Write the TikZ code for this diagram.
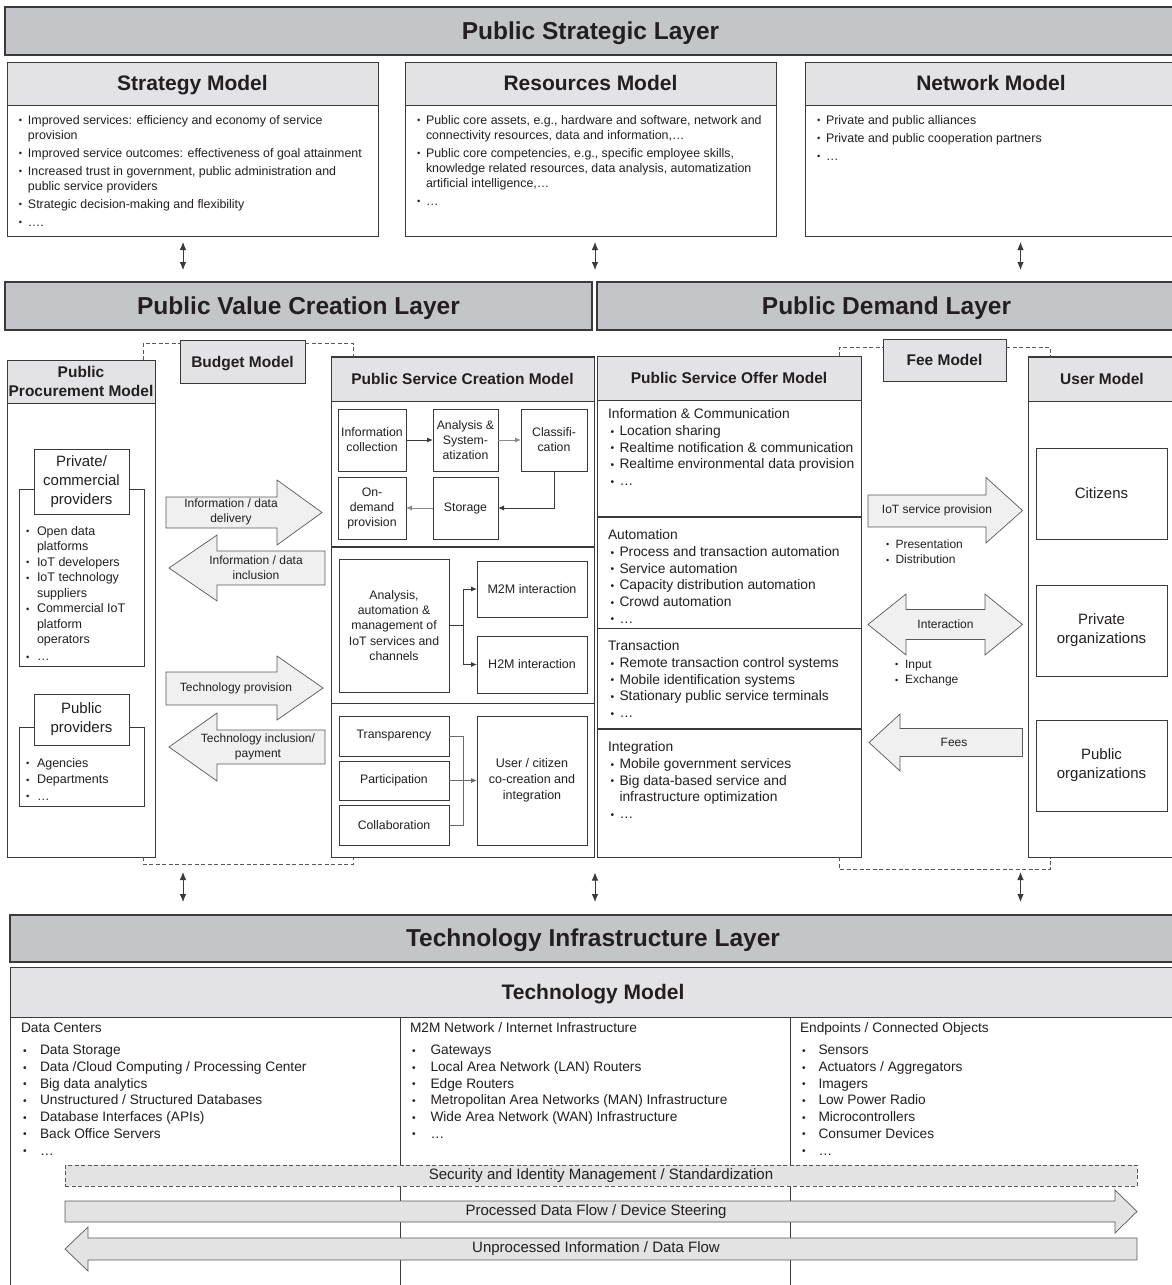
\documentclass[tikz,border=0pt]{standalone}
\usepackage{fontspec}
\setmainfont{Liberation Sans}
\usetikzlibrary{arrows.meta,calc}

\definecolor{barGray}{HTML}{C4C5C8}
\definecolor{headGray}{HTML}{E3E3E5}
\definecolor{arrowFill}{HTML}{F0F0F0}
\definecolor{bandFill}{HTML}{E3E3E3}
\definecolor{edge}{HTML}{3A3A3A}
\definecolor{ink}{HTML}{231F20}

% bullet mark with a fixed-width slot, and a matching hanging indent
\newcommand{\dotmark}{\raisebox{0.5pt}{\scalebox{0.75}{\textbullet}}}
\newcommand{\bl}[1]{\makebox[#1][l]{\dotmark}}
\newcommand{\cl}[1]{\hspace*{#1}}
\newcommand{\fs}[2]{\fontsize{#1}{#2}\selectfont}
% bullet of the offer-model lists
\newcommand{\ob}{\hspace*{2.5pt}\bl{9pt}}
% left-aligned block of lines whose baseline is that of its first line
\newcommand{\lines}[1]{\begin{tabular}[t]{@{}l@{}}#1\end{tabular}}

\begin{document}
\begin{tikzpicture}[x=1pt,y=-1pt,
  every node/.style={text=ink},
  box/.style={draw=edge, line width=0.9pt, fill=white, inner sep=0pt, outer sep=0pt},
  layer/.style={box, fill=barGray, line width=1.3pt, font=\bfseries\fs{24.5}{28},
                text height=16.5pt, text depth=0pt},
  mhead/.style={box, fill=headGray, font=\bfseries\fs{21}{25},
                text height=14pt, text depth=0pt},
  shead/.style={box, fill=headGray, font=\bfseries\fs{15.5}{19}, align=center},
  onehead/.style={shead, text height=11pt, text depth=0pt},
  sub/.style={box, line width=0.8pt, font=\fs{12.3}{15}, align=center},
  usr/.style={box, line width=0.8pt, font=\fs{15}{19}, align=center},
  txt/.style={inner sep=0pt, outer sep=0pt, anchor=base west},
  lbl/.style={inner sep=0pt, align=center, font=\fs{12}{15}},
  barrow/.style={draw=edge!85, fill=arrowFill, line width=0.7pt, line join=miter},
  dbl/.style={draw=edge, line width=0.8pt, {Latex[length=8pt,width=6.5pt]}-{Latex[length=8pt,width=6.5pt]}},
  conn/.style={draw=edge, line width=0.9pt, -{Latex[length=6pt,width=5pt]}},
  plain/.style={draw=edge, line width=0.9pt},
  dashline/.style={draw=edge!85, line width=0.7pt, dash pattern=on 4pt off 2.5pt},
]
\useasboundingbox (0,0) rectangle (1171,1285);

% ---------------- Public Strategic Layer ----------------
\node[layer, minimum width=1171, minimum height=48] (psl) at (590.5,31) {Public Strategic Layer};

\node[box, minimum width=371, minimum height=174] (sm) at (192.5,149) {};
\node[mhead, minimum width=371, minimum height=43] (smh) at (192.5,83.5) {Strategy Model};
\node[box, minimum width=371, minimum height=174] (rm) at (590.5,149) {};
\node[mhead, minimum width=371, minimum height=43] (rmh) at (590.5,83.5) {Resources Model};
\node[box, minimum width=372, minimum height=174] (nm) at (991,149) {};
\node[mhead, minimum width=372, minimum height=43] (nmh) at (991,83.5) {Network Model};

\node[txt, font=\fs{12.4}{15}] (smt) at (19,124.3) {\lines{%
\bl{9pt}Improved services: efficiency and economy of service\\
\cl{9pt}provision\\[3pt]
\bl{9pt}Improved service outcomes: effectiveness of goal attainment\\[3pt]
\bl{9pt}Increased trust in government, public administration and\\
\cl{9pt}public service providers\\[3pt]
\bl{9pt}Strategic decision-making and flexibility\\[3pt]
\bl{9pt}….}};

\node[txt, font=\fs{12.4}{15}] (rmt) at (417,124.3) {\lines{%
\bl{9pt}Public core assets, e.g., hardware and software, network and\\
\cl{9pt}connectivity resources, data and information,…\\[3pt]
\bl{9pt}Public core competencies, e.g., specific employee skills,\\
\cl{9pt}knowledge related resources, data analysis, automatization\\
\cl{9pt}artificial intelligence,…\\[3pt]
\bl{9pt}…}};

\node[txt, font=\fs{12.4}{15}] (nmt) at (817,124.3) {\lines{%
\bl{9pt}Private and public alliances\\[3pt]
\bl{9pt}Private and public cooperation partners\\[3pt]
\bl{9pt}…}};

% ---------------- Value creation / demand layers ----------------
\node[layer, minimum width=587, minimum height=48] (pvcl) at (298.5,306) {Public Value Creation Layer};
\node[layer, minimum width=579, minimum height=48] (pdl) at (886.5,306) {Public Demand Layer};

\coordinate (ax1) at (183,0);
\coordinate (ax2) at (595,0);
\coordinate (ax3) at (1020.5,0);
\draw[dbl, shorten <=6pt, shorten >=12pt] (ax1 |- sm.south) -- (ax1 |- pvcl.north);
\draw[dbl, shorten <=6pt, shorten >=12pt] (ax2 |- rm.south) -- (ax2 |- pvcl.north);
\draw[dbl, shorten <=6pt, shorten >=12pt] (ax3 |- nm.south) -- (ax3 |- pdl.north);

% ---------------- Public Procurement Model ----------------
\node[box, minimum width=148, minimum height=497] (ppm) at (81,608.5) {};
\node[shead, minimum width=148, minimum height=43] (ppmh) at (81,381.5) {Public\\Procurement Model};

\node[box, line width=0.8pt, minimum width=125, minimum height=177] (pco) at (81.5,577.5) {};
\node[usr, minimum width=95, minimum height=65] (pch) at (81.5,481.5) {Private/\\commercial\\providers};
\node[txt, font=\fs{12.5}{15.5}] (pct) at (26,535.4) {\lines{%
\bl{11pt}Open data\\
\cl{11pt}platforms\\
\bl{11pt}IoT developers\\
\bl{11pt}IoT technology\\
\cl{11pt}suppliers\\
\bl{11pt}Commercial IoT\\
\cl{11pt}platform\\
\cl{11pt}operators\\[1.5pt]
\bl{11pt}…}};

\node[box, line width=0.8pt, minimum width=125, minimum height=79] (ppo) at (81.5,766.5) {};
\node[usr, minimum width=95, minimum height=51] (pph) at (81.5,719.5) {Public\\providers};
\node[txt, font=\fs{12.5}{16.5}] (ppt) at (26,767.4) {\lines{%
\bl{11pt}Agencies\\
\bl{11pt}Departments\\
\bl{11pt}…}};

% ---------------- Budget Model ----------------
\node[onehead, minimum width=125, minimum height=43] (bud) at (242.5,361.5) {Budget Model};
\coordinate (bL) at (143,0);
\coordinate (bR) at (353,0);
\coordinate (bT) at (0,343);
\coordinate (bB) at (0,864);

% flows between procurement and service creation
\filldraw[barrow] (166,497) -- (277,497) -- (277,480) -- (322,512.5) -- (277,545) -- (277,528) -- (166,528) -- cycle;
\node[lbl] (a1) at (231,512) {Information / data\\delivery};
\filldraw[barrow] (169,568) -- (217,535) -- (217,551) -- (325,551) -- (325,585) -- (217,585) -- (217,601) -- cycle;
\node[lbl] (a2) at (256,568) {Information / data\\inclusion};
\filldraw[barrow] (166,672) -- (277,672) -- (277,656) -- (323,688) -- (277,720) -- (277,705) -- (166,705) -- cycle;
\node[lbl] (a3) at (236,688) {Technology provision};
\filldraw[barrow] (169,747) -- (217,713) -- (217,730) -- (325,730) -- (325,764) -- (217,764) -- (217,781) -- cycle;
\node[lbl] (a4) at (258,747) {Technology inclusion/\\payment};

% ---------------- Public Service Creation Model ----------------
\node[box, minimum width=263, minimum height=501] (pscm) at (462.5,607) {};
\node[onehead, minimum width=263, minimum height=44] (pscmh) at (462.5,379) {Public Service Creation Model};
\coordinate (cv1) at (0,547);
\coordinate (cv2) at (0,703);
\draw[edge, line width=1.5pt] (pscm.west |- cv1) -- (pscm.east |- cv1);
\draw[edge, line width=0.9pt] (pscm.west |- cv2) -- (pscm.east |- cv2);

\node[sub, minimum width=68, minimum height=62] (ic) at (372,440) {Information\\collection};
\node[sub, minimum width=65, minimum height=62] (as) at (465.5,440) {Analysis \&\\System-\\atization};
\node[sub, minimum width=66, minimum height=62] (cls) at (554,440) {Classifi-\\cation};
\node[sub, minimum width=68, minimum height=62] (od) at (372,508) {On-\\demand\\provision};
\node[sub, minimum width=65, minimum height=62] (sto) at (465.5,508) {Storage};
\draw[conn] (ic) -- (as);
\draw[conn, draw=edge!60] (as) -- (cls);
\draw[conn] (cls.south) |- (sto.east);
\draw[conn, draw=edge!60] (sto) -- (od);

\node[sub, minimum width=110, minimum height=133, font=\fs{12.3}{15.3}] (an) at (394,625.5) {Analysis,\\automation \&\\management of\\IoT services and\\channels};
\node[sub, minimum width=110, minimum height=56, font=\fs{12.5}{15}] (m2m) at (532,589) {M2M interaction};
\node[sub, minimum width=110, minimum height=57, font=\fs{12.5}{15}] (h2m) at (532,664.5) {H2M interaction};
\coordinate (br) at (463,0);
\draw[plain] (an.east) -- (br |- an.east);
\draw[conn] (br |- an.east) |- (m2m.west);
\draw[conn] (br |- an.east) |- (h2m.west);

\node[sub, minimum width=110, minimum height=40] (tr) at (394,736) {Transparency};
\node[sub, minimum width=110, minimum height=39] (pa) at (394,780.5) {Participation};
\node[sub, minimum width=110, minimum height=40] (co) at (394,825) {Collaboration};
\node[sub, minimum width=110, minimum height=129, font=\fs{12.5}{16}] (us) at (532,780.5) {User / citizen\\co-creation and\\integration};
\draw[plain, draw=edge!75] (tr.east) -| (br |- co.east) -- (co.east);
\draw[conn, draw=edge!75] (pa.east) -- (us.west);

% budget bracket
\draw[dashline] (bL |- ppm.north) -- (bL |- bT) -- (bud.west |- bT);
\draw[dashline] (bud.east |- bT) -- (bR |- bT) -- (bR |- pscm.north);
\draw[dashline] (bL |- ppm.south) -- (bL |- bB) -- (bR |- bB) -- (bR |- pscm.south);

% ---------------- Public Service Offer Model ----------------
\node[box, minimum width=264, minimum height=501] (psom) at (729,606.5) {};
\node[onehead, minimum width=264, minimum height=44] (psomh) at (729,378) {Public Service Offer Model};
\coordinate (ov1) at (0,517);
\coordinate (ov2) at (0,628);
\coordinate (ov3) at (0,729);
\draw[edge, line width=1.5pt] (psom.west |- ov1) -- (psom.east |- ov1);
\draw[edge, line width=0.9pt] (psom.west |- ov2) -- (psom.east |- ov2);
\draw[edge, line width=1.5pt] (psom.west |- ov3) -- (psom.east |- ov3);

\node[txt, font=\fs{13.8}{16.7}] (o1) at (608,418.8) {\lines{%
Information \& Communication\\
\ob Location sharing\\
\ob Realtime notification \& communication\\
\ob Realtime environmental data provision\\
\ob …}};
\node[txt, font=\fs{13.8}{16.7}] (o2) at (608,539.8) {\lines{%
Automation\\
\ob Process and transaction automation\\
\ob Service automation\\
\ob Capacity distribution automation\\
\ob Crowd automation\\
\ob …}};
\node[txt, font=\fs{13.8}{16.7}] (o3) at (608,650.8) {\lines{%
Transaction\\
\ob Remote transaction control systems\\
\ob Mobile identification systems\\
\ob Stationary public service terminals\\
\ob …}};
\node[txt, font=\fs{13.8}{16.7}] (o4) at (608,751.8) {\lines{%
Integration\\
\ob Mobile government services\\
\ob Big data-based service and\\
\cl{11.5pt}infrastructure optimization\\
\ob …}};

% ---------------- Fee Model and User Model ----------------
\node[onehead, minimum width=123, minimum height=42] (fee) at (944.5,360) {Fee Model};
\node[box, minimum width=148, minimum height=501] (um) at (1102,607) {};
\node[onehead, minimum width=148, minimum height=44] (umh) at (1102,379) {User Model};
\node[usr, minimum width=131, minimum height=91] (cit) at (1101.5,493.5) {Citizens};
\node[usr, minimum width=131, minimum height=91] (pro) at (1101.5,630.5) {Private\\organizations};
\node[usr, minimum width=131, minimum height=91] (puo) at (1101.5,765.5) {Public\\organizations};

\coordinate (fL) at (839,0);
\coordinate (fR) at (1050,0);
\coordinate (fT) at (0,347);
\coordinate (fB) at (0,869);
\draw[dashline] (fL |- psom.north) -- (fL |- fT) -- (fee.west |- fT);
\draw[dashline] (fee.east |- fT) -- (fR |- fT) -- (fR |- um.north);
\draw[dashline] (fL |- psom.south) -- (fL |- fB) -- (fR |- fB) -- (fR |- um.south);

\filldraw[barrow] (868,495) -- (986,495) -- (986,477.5) -- (1022.5,510.5) -- (986,543) -- (986,527) -- (868,527) -- cycle;
\node[lbl] (b1) at (937,510) {IoT service provision};
\node[txt, font=\fs{12}{15.5}] (b1t) at (886,548.3) {\lines{\bl{9.5pt}Presentation\\\bl{9.5pt}Distribution}};

\filldraw[barrow] (868,624.5) -- (906,594) -- (906,609.5) -- (985,609.5) -- (985,594) -- (1022.5,624.5) -- (985,655) -- (985,639.5) -- (906,639.5) -- (906,655) -- cycle;
\node[lbl] (b2) at (945.5,624) {Interaction};
\node[txt, font=\fs{12}{15.5}] (b2t) at (895,668) {\lines{\bl{10pt}Input\\\bl{10pt}Exchange}};

\filldraw[barrow] (869,742.5) -- (900,714) -- (900,728.5) -- (1022.5,728.5) -- (1022.5,756.5) -- (900,756.5) -- (900,771) -- cycle;
\node[lbl] (b3) at (954,742) {Fees};

% ---------------- Technology Infrastructure Layer ----------------
\node[layer, minimum width=1166, minimum height=47] (til) at (593,938.5) {Technology Infrastructure Layer};

\draw[dbl, shorten <=8pt, shorten >=13pt] (ax1 |- bB) -- (ax1 |- til.north);
\draw[dbl, shorten <=15pt, shorten >=13pt] (ax2 |- pscm.south) -- (ax2 |- til.north);
\draw[dbl, shorten <=3pt, shorten >=13pt] (ax3 |- fB) -- (ax3 |- til.north);

\node[box, minimum width=1166, minimum height=330] (tm) at (593,1132) {};
\node[mhead, minimum width=1166, minimum height=50] (tmh) at (593,992) {Technology Model};
\coordinate (tc1) at (400,0);
\coordinate (tc2) at (790,0);
\draw[plain] (tc1 |- tmh.south) -- (tc1 |- tm.south);
\draw[plain] (tc2 |- tmh.south) -- (tc2 |- tm.south);

\node[txt, font=\fs{13.7}{16.7}] (tk1) at (21,1032.8) {\lines{%
Data Centers\\[5.3pt]
\cl{2pt}\bl{17pt}Data Storage\\
\cl{2pt}\bl{17pt}Data /Cloud Computing / Processing Center\\
\cl{2pt}\bl{17pt}Big data analytics\\
\cl{2pt}\bl{17pt}Unstructured / Structured Databases\\
\cl{2pt}\bl{17pt}Database Interfaces (APIs)\\
\cl{2pt}\bl{17pt}Back Office Servers\\
\cl{2pt}\bl{17pt}…}};
\node[txt, font=\fs{13.7}{16.7}] (tk2) at (410,1032.8) {\lines{%
M2M Network / Internet Infrastructure\\[5.3pt]
\cl{2pt}\bl{18.5pt}Gateways\\
\cl{2pt}\bl{18.5pt}Local Area Network (LAN) Routers\\
\cl{2pt}\bl{18.5pt}Edge Routers\\
\cl{2pt}\bl{18.5pt}Metropolitan Area Networks (MAN) Infrastructure\\
\cl{2pt}\bl{18.5pt}Wide Area Network (WAN) Infrastructure\\
\cl{2pt}\bl{18.5pt}…}};
\node[txt, font=\fs{13.7}{16.7}] (tk3) at (800,1032.8) {\lines{%
Endpoints / Connected Objects\\[5.3pt]
\cl{2pt}\bl{16.5pt}Sensors\\
\cl{2pt}\bl{16.5pt}Actuators / Aggregators\\
\cl{2pt}\bl{16.5pt}Imagers\\
\cl{2pt}\bl{16.5pt}Low Power Radio\\
\cl{2pt}\bl{16.5pt}Microcontrollers\\
\cl{2pt}\bl{16.5pt}Consumer Devices\\
\cl{2pt}\bl{16.5pt}…}};

% cross-cutting band and data flows
\node[box, fill=bandFill, draw=edge!85, line width=0.8pt, dash pattern=on 4pt off 2.5pt,
      minimum width=1072, minimum height=21, font=\fs{15}{18}] (sec) at (601,1175.5)
      {Security and Identity Management / Standardization};

\filldraw[barrow, fill=bandFill] (65,1201) -- (1115,1201) -- (1115,1190) -- (1137,1211.5) -- (1115,1233) -- (1115,1222) -- (65,1222) -- cycle;
\node[lbl, font=\fs{15}{18}] (proc) at (596,1211.5) {Processed Data Flow / Device Steering};

\filldraw[barrow, fill=bandFill] (65,1249) -- (88,1227) -- (88,1238) -- (1137,1238) -- (1137,1260) -- (88,1260) -- (88,1271) -- cycle;
\node[lbl, font=\fs{15}{18}] (unproc) at (596,1249) {Unprocessed Information / Data Flow};

\end{tikzpicture}
\end{document}
